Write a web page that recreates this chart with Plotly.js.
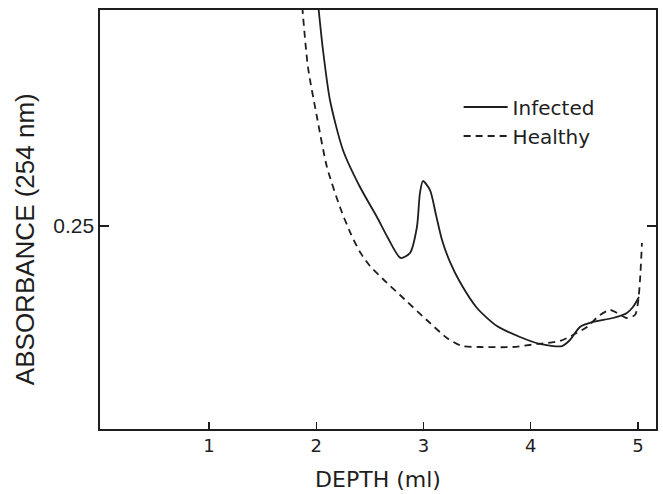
<!DOCTYPE html>
<html>
<head>
<meta charset="utf-8">
<script src="https://cdn.plot.ly/plotly-3.0.1.min.js"></script>
<style>html,body{margin:0;padding:0;background:#fff;}#chart{width:663px;height:494px;}</style>
</head>
<body>
<div id="chart"></div>
<script>
// Depth (ml) and absorbance (254 nm)
const infectedDepth = [2.02, 2.063, 2.128, 2.249, 2.408, 2.566, 2.669, 2.787, 2.874, 2.939, 2.967, 2.995, 3.061, 3.117, 3.173, 3.247, 3.340, 3.499, 3.685, 3.900, 4.086, 4.291, 4.366, 4.459, 4.580, 4.767, 4.897, 4.953, 5.009];
const infectedAbs   = [0.52, 0.4667, 0.4052, 0.3436, 0.2980, 0.2611, 0.2352, 0.2106, 0.2167, 0.2488, 0.2906, 0.3054, 0.2943, 0.2635, 0.2328, 0.2057, 0.1810, 0.1490, 0.1268, 0.1133, 0.1047, 0.1022, 0.1096, 0.1256, 0.1318, 0.1367, 0.1429, 0.1502, 0.1626];
const healthyDepth  = [1.87, 1.923, 2.007, 2.100, 2.221, 2.315, 2.408, 2.501, 2.622, 2.781, 3.061, 3.219, 3.359, 3.527, 3.834, 4.058, 4.273, 4.394, 4.524, 4.646, 4.739, 4.804, 4.897, 4.972, 5.000, 5.019, 5.037];
const healthyAbs    = [0.52, 0.4458, 0.3842, 0.3227, 0.2734, 0.2426, 0.2180, 0.2007, 0.1847, 0.1650, 0.1305, 0.1121, 0.1022, 0.1010, 0.1010, 0.1047, 0.1084, 0.1158, 0.1256, 0.1404, 0.1466, 0.1429, 0.1367, 0.1404, 0.1552, 0.1835, 0.2291];
const seriesNames = ['Infected', 'Healthy'];
const xTickVals = [1, 2, 3, 4, 5];
const xTickText = ['1', '2', '3', '4', '5'];
const yTickVals = [0.25];
const yTickText = ['0.25'];

const ink = '#1e1e1e';
const traces = [
  {x: infectedDepth, y: infectedAbs, name: seriesNames[0], mode: 'lines', line: {color: ink, width: 1.8, shape: 'spline', smoothing: 0.7}},
  {x: healthyDepth, y: healthyAbs, name: seriesNames[1], mode: 'lines', line: {color: ink, width: 1.8, dash: '7px,5px', shape: 'spline', smoothing: 0.7}}
];
const layout = {
  width: 663, height: 494,
  margin: {l: 100, r: 7, t: 10, b: 65},
  paper_bgcolor: '#fff', plot_bgcolor: '#fff',
  showlegend: true,
  legend: {x: 0.645, y: 0.815, xanchor: 'left', yanchor: 'top', bgcolor: 'rgba(0,0,0,0)',
           font: {family: 'DejaVu Sans', size: 20, color: ink}, itemwidth: 44, tracegroupgap: 0},
  xaxis: {
    range: [-0.016, 5.168], showgrid: false, zeroline: false,
    showline: true, linecolor: ink, linewidth: 1.6, mirror: true,
    ticks: 'inside', ticklen: 7, tickwidth: 1.3, tickcolor: ink,
    tickvals: xTickVals, ticktext: xTickText,
    tickfont: {family: 'DejaVu Sans', size: 18, color: ink},
    title: {text: 'DEPTH (ml)', font: {family: 'DejaVu Sans', size: 22, color: ink}, standoff: 16}
  },
  yaxis: {
    range: [0, 0.516], showgrid: false, zeroline: false,
    showline: true, linecolor: ink, linewidth: 1.6, mirror: 'ticks',
    ticks: 'inside', ticklen: 9, tickwidth: 1.3, tickcolor: ink,
    tickvals: yTickVals, ticktext: yTickText,
    tickfont: {family: 'Liberation Sans', size: 21, color: ink}
  },
  annotations: [{
    text: 'ABSORBANCE (254 nm)', textangle: -90, showarrow: false,
    xref: 'paper', yref: 'paper', x: -0.135, y: 0.453, xanchor: 'center', yanchor: 'middle',
    font: {family: 'Liberation Sans', size: 26, color: ink}
  }]
};
Plotly.newPlot('chart', traces, layout, {staticPlot: true, displayModeBar: false});
</script>
</body>
</html>
